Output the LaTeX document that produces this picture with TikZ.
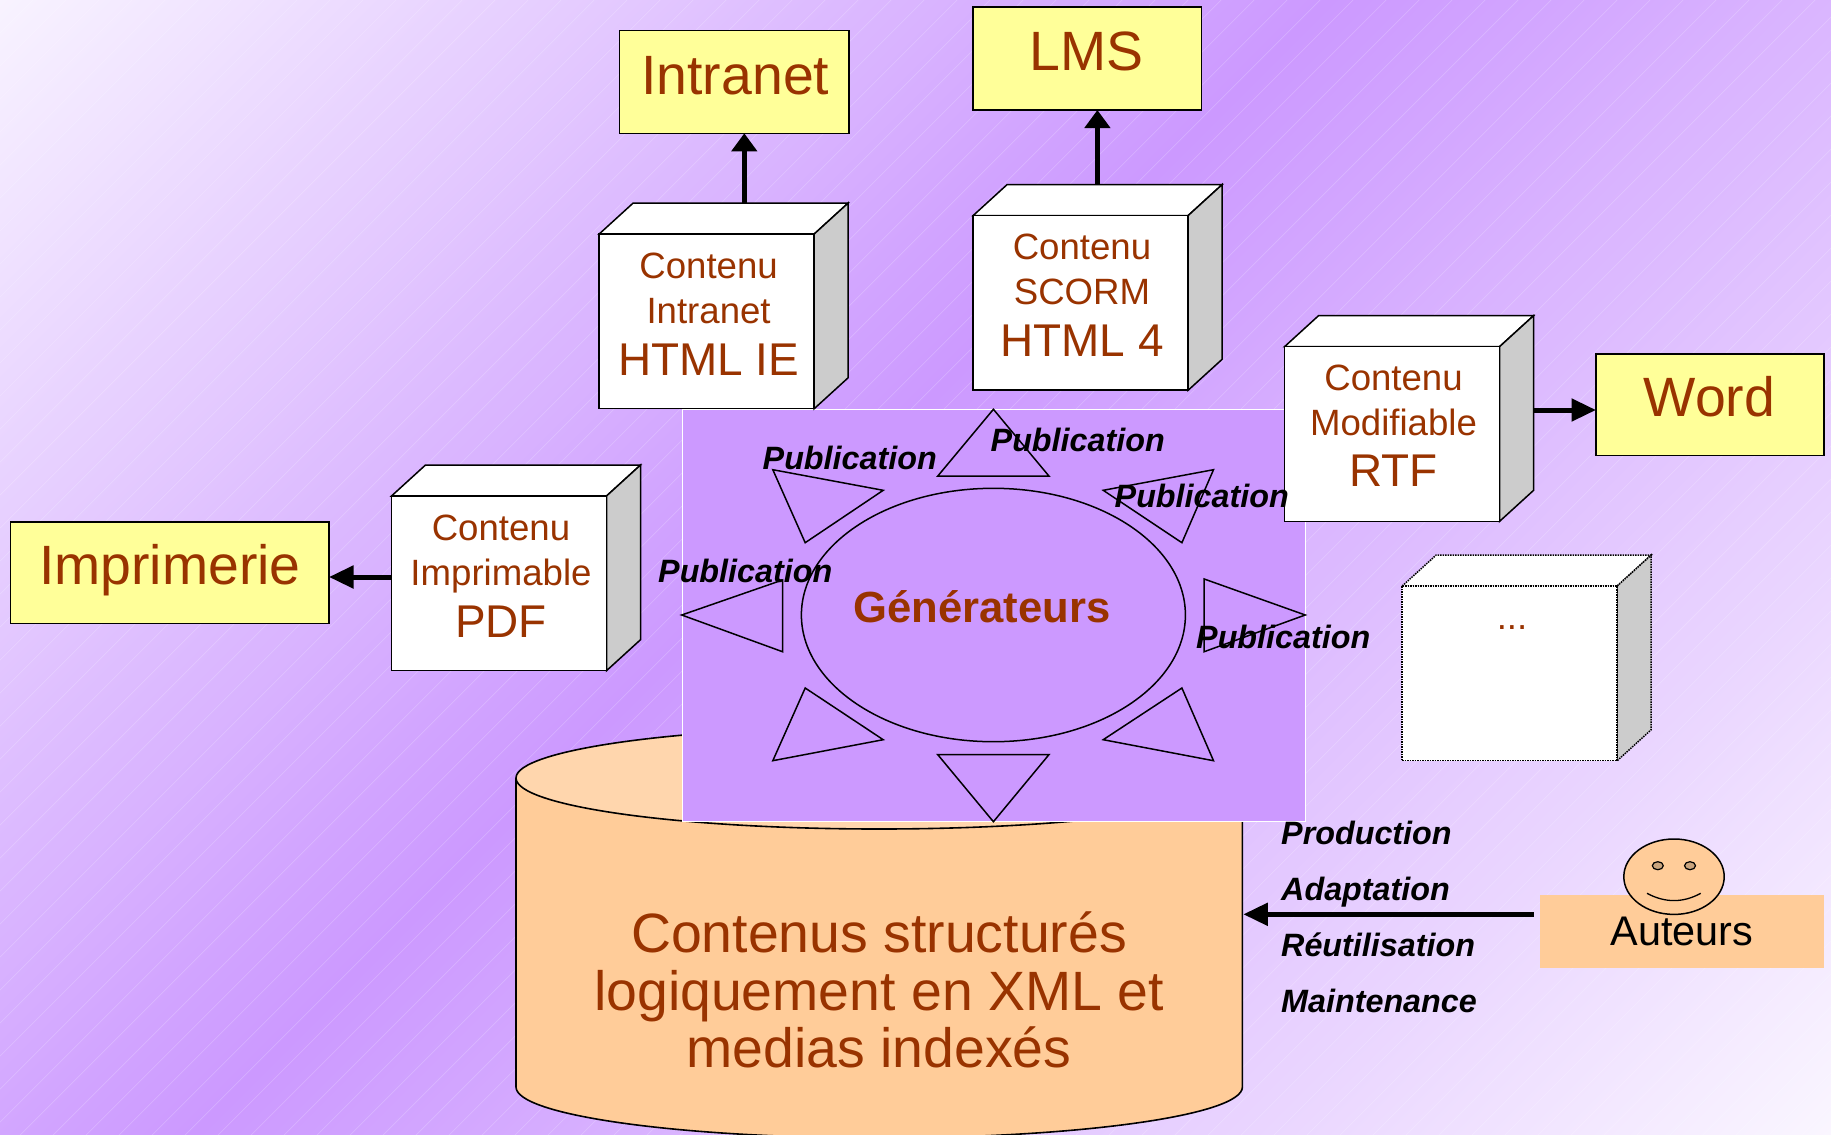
\documentclass[tikz,border=0pt]{standalone}
\usepackage{fontspec}
\setmainfont{Liberation Sans}
\usetikzlibrary{arrows.meta}
\definecolor{txtbrown}{HTML}{993300}
\definecolor{paleyellow}{HTML}{FFFF99}
\definecolor{panelviolet}{HTML}{CC99FF}
\definecolor{peach}{HTML}{FFCC99}
\definecolor{peachlight}{HTML}{FFD6AD}
\definecolor{sidegray}{HTML}{CCCCCC}
\definecolor{eyebrown}{HTML}{C9A47E}
\definecolor{bgone}{HTML}{F8F3FF}
\definecolor{bgtwo}{HTML}{FAF6FF}
\pgfdeclareverticalshading{bgdiag}{100bp}{color(0bp)=(bgtwo); color(25bp)=(bgtwo); color(52.6bp)=(panelviolet); color(75bp)=(bgone); color(100bp)=(bgone)}
\newcommand\fsz[1]{\fontsize{#1}{#1}\selectfont}
\tikzset{
  x=1pt,y=-1pt,
  yellowbox/.style={draw=black,line width=1.6pt,fill=paleyellow,inner sep=0pt,outer sep=0pt,anchor=north west},
  bigtxt/.style={text=txtbrown,font=\fsz{55.4},anchor=base,inner sep=0pt,yshift=-3pt},
  smalltxt/.style={text=txtbrown,font=\fsz{36.6},anchor=base,inner sep=0pt,yshift=-2pt},
  midtxt/.style={text=txtbrown,font=\fsz{45.9},anchor=base,inner sep=0pt,yshift=-2pt},
  cubeline/.style={draw=black,line width=1.5pt,line join=miter},
  frontface/.style={cubeline,fill=white,inner sep=0pt,outer sep=0pt,minimum width=215pt,minimum height=174.7pt,anchor=north west},
  thickarrow/.style={line width=5pt,-{Triangle[length=18pt,width=25pt]}},
  thickarrowh/.style={line width=5pt,-{Triangle[length=24.5pt,width=22pt]}},
  tri/.style={draw=black,line width=1.5pt,fill=panelviolet,line join=miter},
  pubtxt/.style={font=\fsz{32.3}\bfseries\itshape,text=black,anchor=base west,inner sep=0pt,yshift=-1.7pt},
  dbtxt/.style={text=txtbrown,font=\fsz{55.4},anchor=base,inner sep=0pt},
  sheen/.style={white,opacity=.2,line width=.7pt},
}
\newcommand\mycube[4][]{%
  \draw[cubeline,#1,fill=white] (#3,#4) -- ++(34,-31) -- ++(215,0) -- ++(-34,31) -- cycle;
  \draw[cubeline,#1,fill=sidegray] (#3,#4) ++(215,0) -- ++(34,-31) -- ++(0,174.7) -- ++(-34,31) -- cycle;
  \node[frontface,#1] (#2) at (#3,#4) {};
}
\begin{document}
\begin{tikzpicture}
\useasboundingbox (0,0) rectangle (1831,1135);
% background
\begin{scope}
  \clip (0,0) rectangle (1831,1135);
  \shade[shading=bgdiag,transform canvas={rotate around={45:(915.5,567.5)}}] (-133.5,-481.5) rectangle (1964.5,1616.5);
  \foreach \hv in {33,66,...,2970} {\draw[sheen] (\hv,0) -- (0,\hv);}
\end{scope}
% cylinder
\fill[peach] (516,778) -- (516,1087) arc[start angle=180,end angle=0,x radius=363.2,y radius=51] -- (1242.4,778) -- cycle;
\draw[black,line width=1.6pt] (516,778) -- (516,1087) arc[start angle=180,end angle=0,x radius=363.2,y radius=51] -- (1242.4,778);
\draw[black,line width=1.6pt,fill=peachlight] (879.2,778) ellipse[x radius=363.2,y radius=51];
\node[dbtxt] (db1) at (879,952.8) {Contenus structurés};
\node[dbtxt] (db2) at (879,1010) {logiquement en XML et};
\node[dbtxt] (db3) at (879,1067.2) {medias indexés};
% panel
\node[draw=white,line width=1pt,fill=panelviolet,inner sep=0pt,outer sep=0pt,minimum width=623pt,minimum height=412.4pt,anchor=north west] (panel) at (682.3,409.3) {};
% generator sun
\draw[tri] (993.4,409.3) -- (937.8,476) -- (1048.9,476) -- cycle;
\draw[tri] (937.8,754.7) -- (1048.9,754.7) -- (993.4,821.7) -- cycle;
\draw[tri] (681.7,615) -- (782.5,580) -- (782.5,651.7) -- cycle;
\draw[tri] (1204.2,579) -- (1204.2,651.7) -- (1305.2,615) -- cycle;
\draw[tri] (772.8,469.7) -- (883.2,490.3) -- (805.2,542.7) -- cycle;
\draw[tri] (1213.5,469.7) -- (1103.2,490.3) -- (1181.9,542.7) -- cycle;
\draw[tri] (772.8,760.7) -- (805.2,688) -- (883.2,739.7) -- cycle;
\draw[tri] (1213.5,760.7) -- (1181.9,688) -- (1103.2,739.7) -- cycle;
\draw[black,line width=1.5pt] (993.4,615) ellipse[x radius=192,y radius=126.7];
\node[text=txtbrown,font=\fsz{43.6}\bfseries,anchor=base,inner sep=0pt] (gen) at (982,622.7) {Générateurs};
% cubes
\mycube{cintranet}{599.2}{234}
\mycube{cscorm}{973.2}{215.5}
\mycube{cpdf}{391.5}{496}
\mycube{crtf}{1284.5}{346.7}
\mycube[densely dotted]{cdots}{1402.2}{586}
\node[smalltxt] (t1a) at (708.6,276.7) {Contenu};
\node[smalltxt] (t1b) at (708.6,321.7) {Intranet};
\node[midtxt] (t1c) at (708.6,373.3) {HTML IE};
\node[smalltxt] (t2a) at (1082,257.7) {Contenu};
\node[smalltxt] (t2b) at (1082,302.7) {SCORM};
\node[midtxt] (t2c) at (1082,354.3) {HTML 4};
\node[smalltxt] (t3a) at (501,538.7) {Contenu};
\node[smalltxt] (t3b) at (501,583.7) {Imprimable};
\node[midtxt] (t3c) at (501,635.3) {PDF};
\node[smalltxt] (t4a) at (1393.5,388.5) {Contenu};
\node[smalltxt] (t4b) at (1393.5,433.5) {Modifiable};
\node[midtxt] (t4c) at (1393.5,484.3) {RTF};
\node[smalltxt] (t5a) at (1512,627.5) {...};
% yellow target boxes
\node[yellowbox,minimum width=229.4pt,minimum height=103pt] (intranet) at (619.3,30.3) {};
\node[yellowbox,minimum width=228.5pt,minimum height=103pt] (lms) at (972.9,7) {};
\node[yellowbox,minimum width=228pt,minimum height=101.6pt] (word) at (1596,354) {};
\node[yellowbox,minimum width=318.5pt,minimum height=101.6pt] (imprimerie) at (10.5,522) {};
\node[bigtxt] (lb1) at (735.3,91.5) {Intranet};
\node[bigtxt] (lb2) at (1086.7,67.2) {LMS};
\node[bigtxt] (lb3) at (1709.5,413.5) {Word};
\node[bigtxt] (lb4) at (170,581.6) {Imprimerie};
% connectors
\coordinate (a1) at (744.3,203);
\coordinate (a2) at (1097.4,184);
\coordinate (a3) at (1533,410);
\coordinate (a4) at (391.5,577);
\draw[thickarrow] (a1) -- (a1 |- intranet.south);
\draw[thickarrow] (a2) -- (a2 |- lms.south);
\draw[thickarrowh] (a3) -- (a3 -| word.west);
\draw[thickarrowh] (a4) -- (a4 -| imprimerie.east);
% publication labels
\node[pubtxt] (p1) at (762.5,467.7) {Publication};
\node[pubtxt] (p2) at (990.5,450) {Publication};
\node[pubtxt] (p3) at (1114.5,506) {Publication};
\node[pubtxt] (p4) at (658,580.3) {Publication};
\node[pubtxt] (p5) at (1196,646.7) {Publication};
\node[pubtxt] (p6) at (1281,842.7) {Production};
\node[pubtxt] (p7) at (1281,898.3) {Adaptation};
\node[pubtxt] (p8) at (1281,954.3) {Réutilisation};
\node[pubtxt] (p9) at (1281,1010.3) {Maintenance};
% authors
\node[fill=peach,inner sep=0pt,outer sep=0pt,minimum width=284pt,minimum height=72.7pt,anchor=north west] (auteurs) at (1540,895) {};
\draw[black,line width=1.5pt,fill=peach] (1674,876.7) ellipse[x radius=50.2,y radius=37.7];
\draw[black,line width=1.2pt,fill=eyebrown] (1657.8,865.7) ellipse[x radius=5.5,y radius=4];
\draw[black,line width=1.2pt,fill=eyebrown] (1690,865.7) ellipse[x radius=5.5,y radius=4];
\draw[black,line width=1.3pt] (1647,893.3) .. controls (1665,903) and (1683,903) .. (1700.7,893.3);
\node[text=black,font=\fsz{41.4},anchor=base,inner sep=0pt] (autxt) at (1682,945) {Auteurs};
\coordinate (a5) at (1533.5,914.3);
\coordinate (dbedge) at (1243.3,914.3);
\draw[thickarrowh] (a5) -- (dbedge);
\end{tikzpicture}
\end{document}
